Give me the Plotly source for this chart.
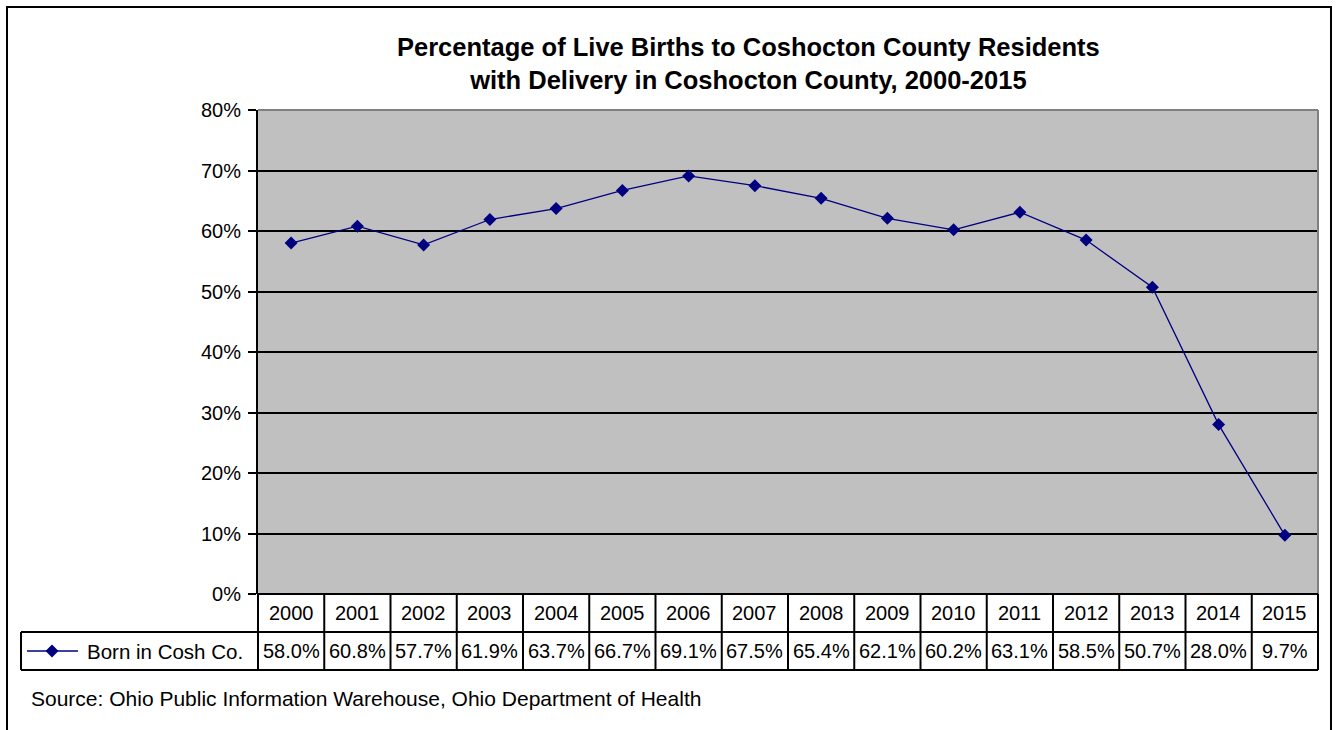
import plotly.graph_objects as go

years = ["2000", "2001", "2002", "2003", "2004", "2005", "2006", "2007",
         "2008", "2009", "2010", "2011", "2012", "2013", "2014", "2015"]
born_in_cosh = [58.0, 60.8, 57.7, 61.9, 63.7, 66.7, 69.1, 67.5,
                65.4, 62.1, 60.2, 63.1, 58.5, 50.7, 28.0, 9.7]
y_ticks = [0, 10, 20, 30, 40, 50, 60, 70, 80]
series_name = "Born in Cosh Co."
title_text = ("Percentage of Live Births to Coshocton County Residents<br>"
              "with Delivery in Coshocton County, 2000-2015")
source_text = "Source: Ohio Public Information Warehouse, Ohio Department of Health"

W, H = 1337, 730
FONT = "Arial, Liberation Sans, sans-serif"
NAVY = "#000080"


def px(x):
    return x / W


def py(y):
    return 1 - y / H


PL, PR, PT, PB = 258, 1318, 110, 594   # plot area in pixels
ROW1, ROW2 = 632, 670                  # table row bottoms
TL = 21                                # table left edge

n = len(years)
xs = list(range(n))

fig = go.Figure()
fig.add_trace(go.Scatter(
    x=xs, y=[v / 100 for v in born_in_cosh], mode="lines+markers",
    name=series_name,
    line=dict(color=NAVY, width=1.3),
    marker=dict(symbol="diamond", size=10, color=NAVY),
    showlegend=False,
))

LW = 2
shapes = []
shapes.append(dict(type="rect", xref="paper", yref="paper",
                   x0=px(7), x1=px(1331), y0=py(745), y1=py(7),
                   line=dict(color="black", width=LW)))
shapes.append(dict(type="line", xref="paper", yref="paper",
                   x0=px(PL), x1=px(PR), y0=py(PT), y1=py(PT),
                   line=dict(color="#808080", width=LW)))
shapes.append(dict(type="line", xref="paper", yref="paper",
                   x0=px(PR), x1=px(PR), y0=py(PT), y1=py(PB),
                   line=dict(color="#808080", width=LW)))
shapes.append(dict(type="line", xref="paper", yref="paper",
                   x0=px(PL), x1=px(PR), y0=py(PB), y1=py(PB),
                   line=dict(color="black", width=LW)))
for yy in (ROW1, ROW2):
    shapes.append(dict(type="line", xref="paper", yref="paper",
                       x0=px(TL), x1=px(PR), y0=py(yy), y1=py(yy),
                       line=dict(color="black", width=LW)))
colw = (PR - PL) / n
for i in range(n + 1):
    xx = PL + i * colw
    shapes.append(dict(type="line", xref="paper", yref="paper",
                       x0=px(xx), x1=px(xx), y0=py(PB), y1=py(ROW2),
                       line=dict(color="black", width=LW)))
shapes.append(dict(type="line", xref="paper", yref="paper",
                   x0=px(TL), x1=px(TL), y0=py(ROW1), y1=py(ROW2),
                   line=dict(color="black", width=LW)))

# legend key (line + diamond) in the table's label cell
ky = 651
shapes.append(dict(type="line", xref="paper", yref="paper",
                   x0=px(27), x1=px(78), y0=py(ky), y1=py(ky),
                   line=dict(color=NAVY, width=1.3)))
cx0, r = 52, 6.5
shapes.append(dict(type="path", xref="paper", yref="paper",
                   path=(f"M {px(cx0 - r)},{py(ky)} L {px(cx0)},{py(ky - r)} "
                         f"L {px(cx0 + r)},{py(ky)} L {px(cx0)},{py(ky + r)} Z"),
                   fillcolor=NAVY, line=dict(color=NAVY, width=0)))

annotations = []
annotations.append(dict(text="<b>" + title_text + "</b>", xref="paper", yref="paper",
                        x=px(748), y=py(64), showarrow=False,
                        font=dict(family=FONT, size=25.5, color="black"),
                        xanchor="center", yanchor="middle"))
for i, (yr, v) in enumerate(zip(years, born_in_cosh)):
    cx = PL + (i + 0.5) * colw
    annotations.append(dict(text=yr, xref="paper", yref="paper",
                            x=px(cx), y=py(613), showarrow=False,
                            font=dict(family=FONT, size=20, color="black"),
                            xanchor="center", yanchor="middle"))
    annotations.append(dict(text=f"{v:.1f}%", xref="paper", yref="paper",
                            x=px(cx), y=py(651), showarrow=False,
                            font=dict(family=FONT, size=20, color="black"),
                            xanchor="center", yanchor="middle"))
annotations.append(dict(text=series_name, xref="paper", yref="paper",
                        x=px(85), y=py(651), showarrow=False,
                        font=dict(family=FONT, size=20.5, color="black"),
                        xanchor="left", yanchor="middle"))
annotations.append(dict(text=source_text, xref="paper", yref="paper",
                        x=px(29), y=py(698), showarrow=False,
                        font=dict(family=FONT, size=21, color="black"),
                        xanchor="left", yanchor="middle"))

fig.update_layout(
    width=W, height=H, autosize=False,
    margin=dict(l=0, r=0, t=0, b=0, pad=0, autoexpand=False),
    paper_bgcolor="white", plot_bgcolor="#C0C0C0",
    font=dict(family=FONT, size=20, color="black"),
    showlegend=False,
    xaxis=dict(domain=[px(PL), px(PR)], range=[-0.5, n - 0.5],
               showticklabels=False, showgrid=False, zeroline=False,
               ticks="", fixedrange=True, automargin=False),
    yaxis=dict(domain=[py(PB), py(PT)], range=[0, 0.8],
               tickvals=[t / 100 for t in y_ticks],
               ticktext=[f"{t}%" for t in y_ticks],
               tickfont=dict(family=FONT, size=20, color="black"),
               ticks="outside", ticklen=8, tickcolor="black", tickwidth=2,
               showline=True, linecolor="black", linewidth=2,
               showgrid=True, gridcolor="black", gridwidth=1.5,
               zeroline=False, ticklabelstandoff=3, automargin=False),
    shapes=shapes,
    annotations=annotations,
)

fig.write_html("out.html",
               config={"displayModeBar": False},
               post_script="document.body.style.margin='0';"
                           "document.body.style.overflow='hidden';")
